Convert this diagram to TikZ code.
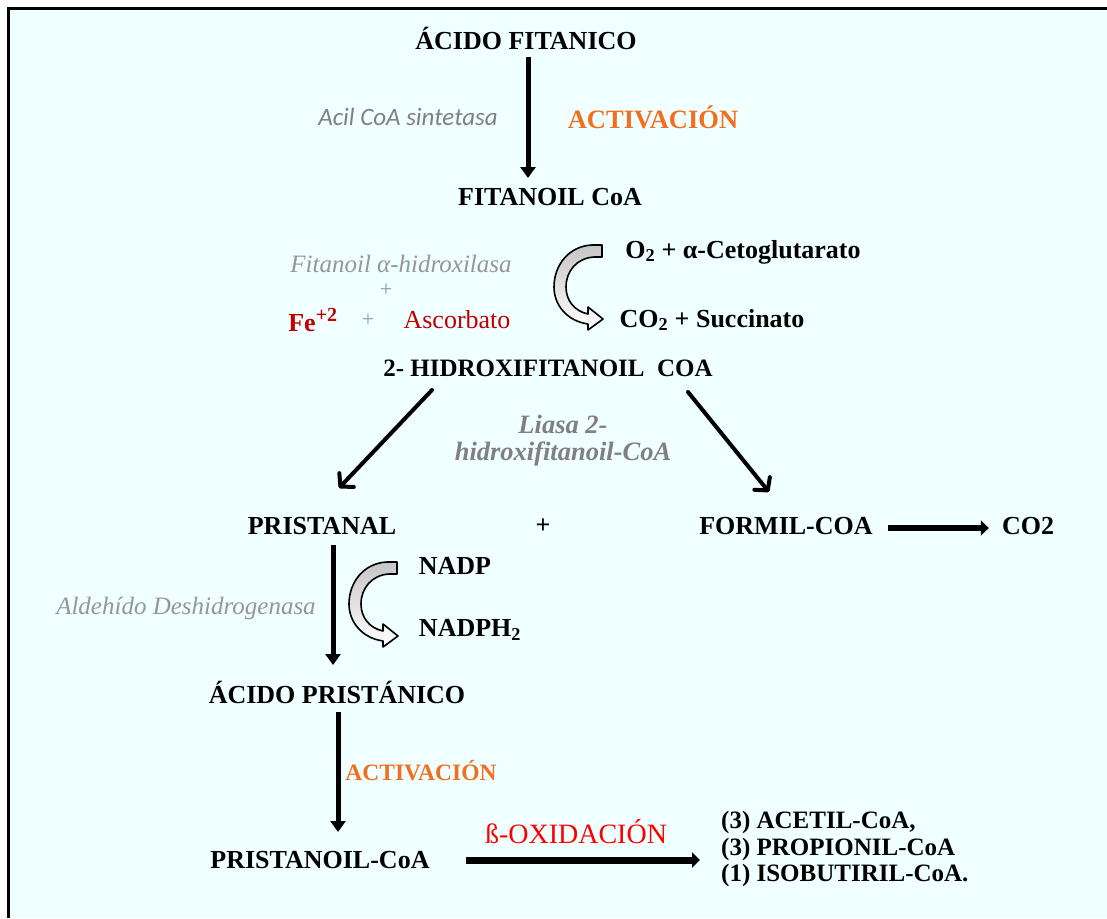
\documentclass[tikz,border=0pt]{standalone}
\usepackage{fontspec}
\setmainfont{Liberation Serif}
\newfontfamily\carlito{Carlito}
\usetikzlibrary{arrows.meta,calc}
\definecolor{bgcyan}{RGB}{240,255,255}
\definecolor{actorange}{RGB}{240,112,32}
\definecolor{enzgray}{RGB}{128,128,128}
\definecolor{palegray}{RGB}{150,150,150}
\definecolor{cofred}{RGB}{192,0,0}
\definecolor{oxred}{RGB}{255,0,0}

\begin{document}
\begin{tikzpicture}[x=1pt,y=-1pt,
  lbl/.style={inner sep=0pt, font=\fontsize{26}{30}\selectfont\bfseries},
  enzyme/.style={inner sep=0pt, text=palegray, font=\fontsize{25}{28}\selectfont\itshape},
  activ/.style={inner sep=0pt, text=actorange, font=\fontsize{26.5}{30}\selectfont\bfseries},
  varrow/.style={line width=5pt, -{Triangle[length=11pt,width=15pt]}},
  darrow/.style={line width=4pt, line cap=round, -{Straight Barb[length=9pt,width=20pt,line cap=round,line join=round]}},
  harrow/.style={line width=6pt, -{Triangle[length=8pt,width=15pt]}},
  turnarrow/.pic={
    \draw[line width=1.6pt, line join=round, top color=gray!45, bottom color=white]
      (0,0) -- (-10,0) .. controls (-33,1) and (-48,20) .. (-48,42)
      .. controls (-48,60) and (-35,76) .. (-14,79) -- (-14,85) -- (1,74)
      -- (-14,62) -- (-14,69) .. controls (-28,66) and (-36,55) .. (-36,42)
      .. controls (-36,26) and (-25,13) .. (-8,12) -- (0,12) -- cycle;
  }]
\useasboundingbox (0,0) rectangle (1107,918);

% panel and its frame
\fill[bgcyan] (10,10) rectangle (1107,918);
\draw[line width=3.5pt] (8.5,918) -- (8.5,8.5) -- (1107,8.5);

% metabolites
\node[lbl] (acidoF) at (526,38) {ÁCIDO FITANICO};
\node[lbl] (fitanoil) at (550,197) {FITANOIL CoA};
\node[lbl] (o2) at (743,252) {O\textsubscript{2} + α-Cetoglutarato};
\node[lbl] (co2s) at (712,320) {CO\textsubscript{2} + Succinato};
\node[lbl, font=\fontsize{25}{30}\selectfont\bfseries] (hidroxi) at (548,368) {2- HIDROXIFITANOIL\ \ COA};
\node[lbl] (pristanal) at (322,526) {PRISTANAL};
\node[lbl] (plus3) at (543,526) {+};
\node[lbl] (formil) at (786,526) {FORMIL-COA};
\node[lbl] (co2) at (1028,526) {CO2};
\node[lbl] (nadp) at (455,566) {NADP};
\node[lbl] (nadph) at (470,630) {NADPH\textsubscript{2}};
\node[lbl] (pristanico) at (337,692) {ÁCIDO PRISTÁNICO};
\node[lbl] (pristanoil) at (320,860) {PRISTANOIL-CoA};
\node[lbl, align=left, anchor=west, font=\fontsize{25}{26.5}\selectfont\bfseries]
  (prod) at (721,849) {(3) ACETIL-CoA,\\(3) PROPIONIL-CoA\\(1) ISOBUTIRIL-CoA.};

% enzymes, cofactors and process labels
\node[inner sep=0pt, text=enzgray, font=\carlito\fontsize{25}{28}\selectfont\itshape] (acil) at (408,117) {Acil CoA sintetasa};
\node[activ] (activ1) at (653,117) {ACTIVACIÓN};
\node[enzyme] (hidroxilasa) at (401,264) {Fitanoil \textit{α}-hidroxilasa};
\node[enzyme, font=\fontsize{22}{26}\selectfont] (plus1) at (386,290) {+};
\node[lbl, text=cofred] (fe) at (313,320) {Fe\textsuperscript{\fontsize{20}{20}\selectfont+2}};
\node[enzyme, font=\fontsize{22}{26}\selectfont] (plus2) at (368,320) {+};
\node[inner sep=0pt, text=cofred, font=\fontsize{26}{30}\selectfont] (ascorbato) at (457,320) {Ascorbato};
\node[enzyme, text=enzgray, font=\fontsize{26.5}{27}\selectfont\bfseries\itshape, align=center]
  (liasa) at (563,441) {Liasa 2-\\hidroxifitanoil-CoA};
\node[enzyme, font=\fontsize{25}{28}\selectfont\itshape] (aldehido) at (186,608) {Aldehído Deshidrogenasa};
\node[activ, font=\fontsize{23.5}{28}\selectfont\bfseries] (activ2) at (421,771) {ACTIVACIÓN};
\node[inner sep=0pt, text=oxred, font=\fontsize{28}{30}\selectfont] (boxid) at (576,832) {ß-OXIDACIÓN};

% reaction arrows
\draw[varrow] ($(acidoF.center)+(2,19)$) -- ($(fitanoil.center)+(-22,-19)$);
\draw[darrow] ($(hidroxi.center)+(-116,22)$) -- ($(pristanal.center)+(17,-38)$);
\draw[darrow] ($(hidroxi.center)+(140,24)$) -- ($(formil.center)+(-17,-34)$);
\draw[harrow] ($(formil.east)+(15,2)$) -- ($(co2.west)+(-13,2)$);
\draw[varrow] ($(pristanal.center)+(11,19)$) -- ($(pristanico.center)+(-4,-27)$);
\draw[varrow] ($(pristanico.center)+(1,20)$) -- ($(pristanoil.center)+(18,-28)$);
\draw[harrow, line width=7pt] ($(pristanoil.center)+(146,0)$) -- ($(prod.west)+(-21,11)$);

% co-substrate turn arrows
\pic at (602,245) {turnarrow};
\pic at (397,562) {turnarrow};
\end{tikzpicture}
\end{document}
